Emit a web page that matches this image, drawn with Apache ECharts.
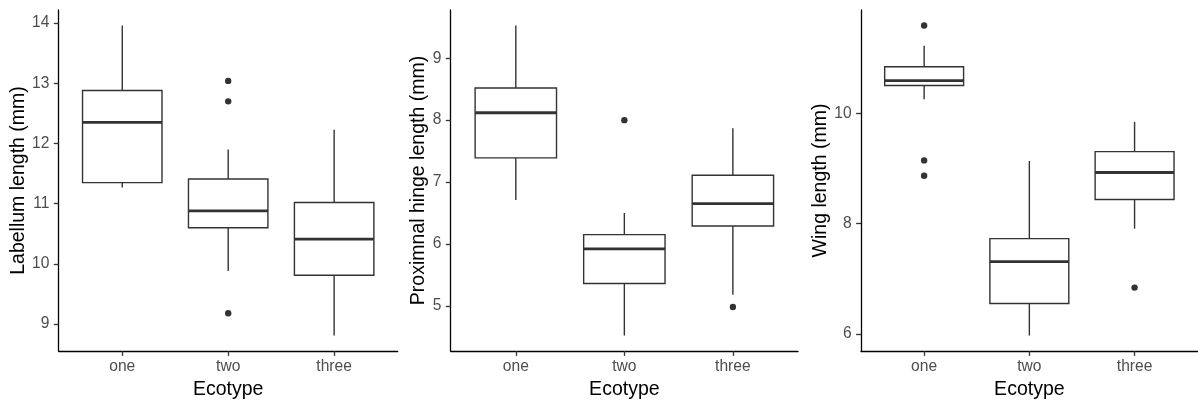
<!DOCTYPE html>
<html>
<head>
<meta charset="utf-8">
<title>Ecotype morphology</title>
<script src="https://cdn.jsdelivr.net/npm/echarts@6/dist/echarts.min.js"></script>
<style>
  html, body { margin: 0; padding: 0; background: #ffffff; }
  #chart { width: 1198px; height: 401px; }
</style>
</head>
<body>
<div id="chart"></div>
<script>
// Ecotype groups along the x axis
const categories = ['one', 'two', 'three'];

// Box statistics per ecotype: [lower whisker, Q1, median, Q3, upper whisker]
const labellumStats = [
  [11.27, 11.35, 12.35, 12.88, 13.96],
  [9.88, 10.60, 10.88, 11.41, 11.90],
  [8.81, 9.81, 10.41, 11.02, 12.23]
];
const labellumOutliers = [[], [13.04, 12.70, 9.18], []];
const labellumTicks = [9, 10, 11, 12, 13, 14];

const hingeStats = [
  [6.71, 7.39, 8.12, 8.52, 9.53],
  [4.52, 5.36, 5.92, 6.15, 6.50],
  [5.18, 6.29, 6.65, 7.11, 7.87]
];
const hingeOutliers = [[], [8.00], [4.98]];
const hingeTicks = [5, 6, 7, 8, 9];

const wingStats = [
  [10.26, 10.51, 10.60, 10.85, 11.23],
  [5.97, 6.55, 7.31, 7.73, 9.14],
  [7.91, 8.44, 8.93, 9.31, 9.85]
];
const wingOutliers = [[11.60, 9.15, 8.87], [], [6.84]];
const wingTicks = [6, 8, 10];

const yTitles = ['Labellum length (mm)', 'Proximnal hinge length (mm)', 'Wing length (mm)'];
const xTitle = 'Ecotype';

const panels = [
  { stats: labellumStats, outliers: labellumOutliers, ticks: labellumTicks, left: 58.7, width: 339.0, titleGap: 29 },
  { stats: hingeStats, outliers: hingeOutliers, ticks: hingeTicks, left: 450.7, width: 347.3, titleGap: 20.4 },
  { stats: wingStats, outliers: wingOutliers, ticks: wingTicks, left: 861.0, width: 336.7, titleGap: 29 }
];

const FONT = "'Liberation Sans', Arial, Helvetica, sans-serif";
const INK = '#333333';
const BOX_WIDTH = 0.75;

// Continuous scale padded by 5% of the data range on each side
function paddedRange(stats, outliers) {
  const vals = [];
  stats.forEach(s => vals.push(s[0], s[4]));
  outliers.forEach(o => o.forEach(v => vals.push(v)));
  const lo = Math.min.apply(null, vals), hi = Math.max.apply(null, vals);
  const pad = (hi - lo) * 0.05;
  return [lo - pad, hi + pad];
}

function renderBox(params, api) {
  const x = api.value(0);
  const lower = api.coord([x, api.value(1)]);
  const q1 = api.coord([x, api.value(2)]);
  const med = api.coord([x, api.value(3)]);
  const q3 = api.coord([x, api.value(4)]);
  const upper = api.coord([x, api.value(5)]);
  const halfW = api.size([BOX_WIDTH, 0])[0] / 2;
  const cx = q1[0];
  const lineStyle = { stroke: INK, lineWidth: 1.4, fill: null };
  return {
    type: 'group',
    children: [
      { type: 'line', shape: { x1: cx, y1: q3[1], x2: cx, y2: upper[1] }, style: lineStyle },
      { type: 'line', shape: { x1: cx, y1: q1[1], x2: cx, y2: lower[1] }, style: lineStyle },
      { type: 'rect', shape: { x: cx - halfW, y: q3[1], width: halfW * 2, height: q1[1] - q3[1] },
        style: { stroke: INK, lineWidth: 1.4, fill: '#ffffff' } },
      { type: 'line', shape: { x1: cx - halfW, y1: med[1], x2: cx + halfW, y2: med[1] },
        style: { stroke: INK, lineWidth: 2.8 } }
    ]
  };
}

const grid = [], xAxis = [], yAxis = [], series = [];

panels.forEach((p, i) => {
  const range = paddedRange(p.stats, p.outliers);
  grid.push({ left: p.left, width: p.width, top: 10, height: 341,
    containLabel: false, outerBoundsMode: 'none' });

  xAxis.push({
    type: 'value', gridIndex: i, min: 0.4, max: 3.6,
    name: xTitle, nameLocation: 'middle', nameGap: 25,
    nameTextStyle: { fontFamily: FONT, fontSize: 19.5, color: '#000000' },
    axisLine: { show: true, lineStyle: { color: '#000000', width: 1.3 } },
    axisTick: { show: true, inside: false, length: 4.9, customValues: [1, 2, 3],
      lineStyle: { color: INK, width: 1.3 } },
    axisLabel: { show: true, margin: 7.5, customValues: [1, 2, 3],
      fontFamily: FONT, fontSize: 15.6, color: '#4D4D4D',
      formatter: v => categories[Math.round(v) - 1] || '' },
    splitLine: { show: false }
  });

  yAxis.push({
    type: 'value', gridIndex: i, min: range[0], max: range[1],
    name: yTitles[i], nameLocation: 'middle', nameRotate: 90, nameGap: p.titleGap,
    nameTextStyle: { fontFamily: FONT, fontSize: 19.5, color: '#000000' },
    axisLine: { show: true, lineStyle: { color: '#000000', width: 1.3 } },
    axisTick: { show: true, inside: false, length: 4.9, customValues: p.ticks,
      lineStyle: { color: INK, width: 1.3 } },
    axisLabel: { show: true, margin: 9.3, customValues: p.ticks,
      fontFamily: FONT, fontSize: 15.6, color: '#4D4D4D' },
    splitLine: { show: false }
  });

  series.push({
    type: 'custom', xAxisIndex: i, yAxisIndex: i,
    renderItem: renderBox,
    encode: { x: 0, y: [1, 2, 3, 4, 5] },
    data: p.stats.map((s, k) => [k + 1].concat(s)),
    silent: true, z: 2
  });

  const pts = [];
  p.outliers.forEach((vals, k) => vals.forEach(v => pts.push([k + 1, v])));
  series.push({
    type: 'scatter', xAxisIndex: i, yAxisIndex: i,
    data: pts, symbol: 'circle', symbolSize: 6.4,
    itemStyle: { color: INK, opacity: 1 },
    silent: true, z: 3
  });
});

const chart = echarts.init(document.getElementById('chart'), null, { renderer: 'canvas' });
chart.setOption({
  animation: false,
  backgroundColor: '#ffffff',
  textStyle: { fontFamily: FONT },
  grid: grid,
  xAxis: xAxis,
  yAxis: yAxis,
  series: series
});
</script>
</body>
</html>
